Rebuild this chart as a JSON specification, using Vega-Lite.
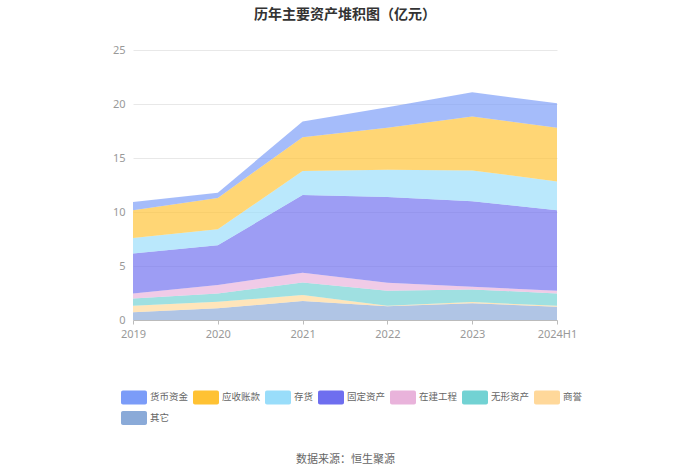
{
  "$schema": "https://vega.github.io/schema/vega-lite/v6.json",
  "autosize": "none",
  "width": 424,
  "height": 270,
  "padding": {"left": 133, "top": 50, "right": 143, "bottom": 154},
  "background": "white",
  "title": {
    "text": "历年主要资产堆积图（亿元）",
    "font": "Noto Sans CJK SC",
    "fontSize": 14,
    "fontWeight": "bold",
    "color": "#333333",
    "anchor": "middle",
    "offset": 22
  },
  "data": {
    "values": [
      {"year": "2019", "item": "其它", "k": 1, "v": 0.71},
      {"year": "2019", "item": "商誉", "k": 2, "v": 0.61},
      {"year": "2019", "item": "无形资产", "k": 3, "v": 0.68},
      {"year": "2019", "item": "在建工程", "k": 4, "v": 0.46},
      {"year": "2019", "item": "固定资产", "k": 5, "v": 3.69},
      {"year": "2019", "item": "存货", "k": 6, "v": 1.45},
      {"year": "2019", "item": "应收账款", "k": 7, "v": 2.56},
      {"year": "2019", "item": "货币资金", "k": 8, "v": 0.77},
      {"year": "2020", "item": "其它", "k": 1, "v": 1.08},
      {"year": "2020", "item": "商誉", "k": 2, "v": 0.61},
      {"year": "2020", "item": "无形资产", "k": 3, "v": 0.77},
      {"year": "2020", "item": "在建工程", "k": 4, "v": 0.77},
      {"year": "2020", "item": "固定资产", "k": 5, "v": 3.69},
      {"year": "2020", "item": "存货", "k": 6, "v": 1.48},
      {"year": "2020", "item": "应收账款", "k": 7, "v": 2.9},
      {"year": "2020", "item": "货币资金", "k": 8, "v": 0.49},
      {"year": "2021", "item": "其它", "k": 1, "v": 1.75},
      {"year": "2021", "item": "商誉", "k": 2, "v": 0.56},
      {"year": "2021", "item": "无形资产", "k": 3, "v": 1.17},
      {"year": "2021", "item": "在建工程", "k": 4, "v": 0.89},
      {"year": "2021", "item": "固定资产", "k": 5, "v": 7.2},
      {"year": "2021", "item": "存货", "k": 6, "v": 2.22},
      {"year": "2021", "item": "应收账款", "k": 7, "v": 3.14},
      {"year": "2021", "item": "货币资金", "k": 8, "v": 1.44},
      {"year": "2022", "item": "其它", "k": 1, "v": 1.28},
      {"year": "2022", "item": "商誉", "k": 2, "v": 0.05},
      {"year": "2022", "item": "无形资产", "k": 3, "v": 1.38},
      {"year": "2022", "item": "在建工程", "k": 4, "v": 0.74},
      {"year": "2022", "item": "固定资产", "k": 5, "v": 7.94},
      {"year": "2022", "item": "存货", "k": 6, "v": 2.52},
      {"year": "2022", "item": "应收账款", "k": 7, "v": 3.88},
      {"year": "2022", "item": "货币资金", "k": 8, "v": 1.91},
      {"year": "2023", "item": "其它", "k": 1, "v": 1.54},
      {"year": "2023", "item": "商誉", "k": 2, "v": 0.12},
      {"year": "2023", "item": "无形资产", "k": 3, "v": 1.17},
      {"year": "2023", "item": "在建工程", "k": 4, "v": 0.25},
      {"year": "2023", "item": "固定资产", "k": 5, "v": 7.91},
      {"year": "2023", "item": "存货", "k": 6, "v": 2.86},
      {"year": "2023", "item": "应收账款", "k": 7, "v": 4.99},
      {"year": "2023", "item": "货币资金", "k": 8, "v": 2.24},
      {"year": "2024H1", "item": "其它", "k": 1, "v": 1.23},
      {"year": "2024H1", "item": "商誉", "k": 2, "v": 0.08},
      {"year": "2024H1", "item": "无形资产", "k": 3, "v": 1.15},
      {"year": "2024H1", "item": "在建工程", "k": 4, "v": 0.25},
      {"year": "2024H1", "item": "固定资产", "k": 5, "v": 7.45},
      {"year": "2024H1", "item": "存货", "k": 6, "v": 2.67},
      {"year": "2024H1", "item": "应收账款", "k": 7, "v": 4.96},
      {"year": "2024H1", "item": "货币资金", "k": 8, "v": 2.28}
    ]
  },
  "mark": {"type": "area", "fillOpacity": 0.68, "strokeWidth": 0},
  "encoding": {
    "x": {
      "field": "year",
      "type": "ordinal",
      "scale": {"type": "point", "padding": 0},
      "axis": {
        "labelAngle": 0,
        "labelColor": "#999999",
        "labelFont": "Noto Sans",
        "labelFontSize": 11,
        "labelPadding": 4,
        "domainColor": "#bbbbbb",
        "tickColor": "#bbbbbb",
        "tickSize": 4,
        "grid": false,
        "title": "数据来源：恒生聚源",
        "titleFont": "Noto Sans CJK SC",
        "titleFontSize": 11,
        "titleFontWeight": "normal",
        "titleColor": "#666666",
        "titlePadding": 114
      }
    },
    "y": {
      "field": "v",
      "type": "quantitative",
      "stack": "zero",
      "scale": {"domain": [0, 25]},
      "axis": {
        "values": [0, 5, 10, 15, 20, 25],
        "title": null,
        "domain": false,
        "ticks": false,
        "labelColor": "#999999",
        "labelFont": "Noto Sans",
        "labelFontSize": 11,
        "labelPadding": 8,
        "gridColor": "#e8e8e8"
      }
    },
    "color": {
      "field": "item",
      "type": "nominal",
      "scale": {
        "domain": ["货币资金", "应收账款", "存货", "固定资产", "在建工程", "无形资产", "商誉", "其它"],
        "range": ["#7B9CF8", "#FFC233", "#99DDFA", "#6E6EEF", "#E9B3DB", "#72D2D3", "#FFD89A", "#8AAAD8"]
      },
      "legend": {
        "title": null,
        "orient": "none",
        "legendX": -12,
        "legendY": 334,
        "direction": "horizontal",
        "columns": 7,
        "symbolType": "M-0.85,-0.54H0.85A0.15,0.15 0 0 1 1,-0.39V0.39A0.15,0.15 0 0 1 0.85,0.54H-0.85A0.15,0.15 0 0 1 -1,0.39V-0.39A0.15,0.15 0 0 1 -0.85,-0.54Z",
        "symbolSize": 676,
        "symbolOpacity": 1,
        "symbolStrokeWidth": 0,
        "labelFont": "Noto Sans CJK SC",
        "labelFontSize": 9.5,
        "labelColor": "#666666",
        "labelOffset": 3,
        "columnPadding": 3,
        "rowPadding": -1
      }
    },
    "order": {"field": "k", "type": "quantitative", "sort": "ascending"}
  },
  "config": {"view": {"stroke": null}}
}
